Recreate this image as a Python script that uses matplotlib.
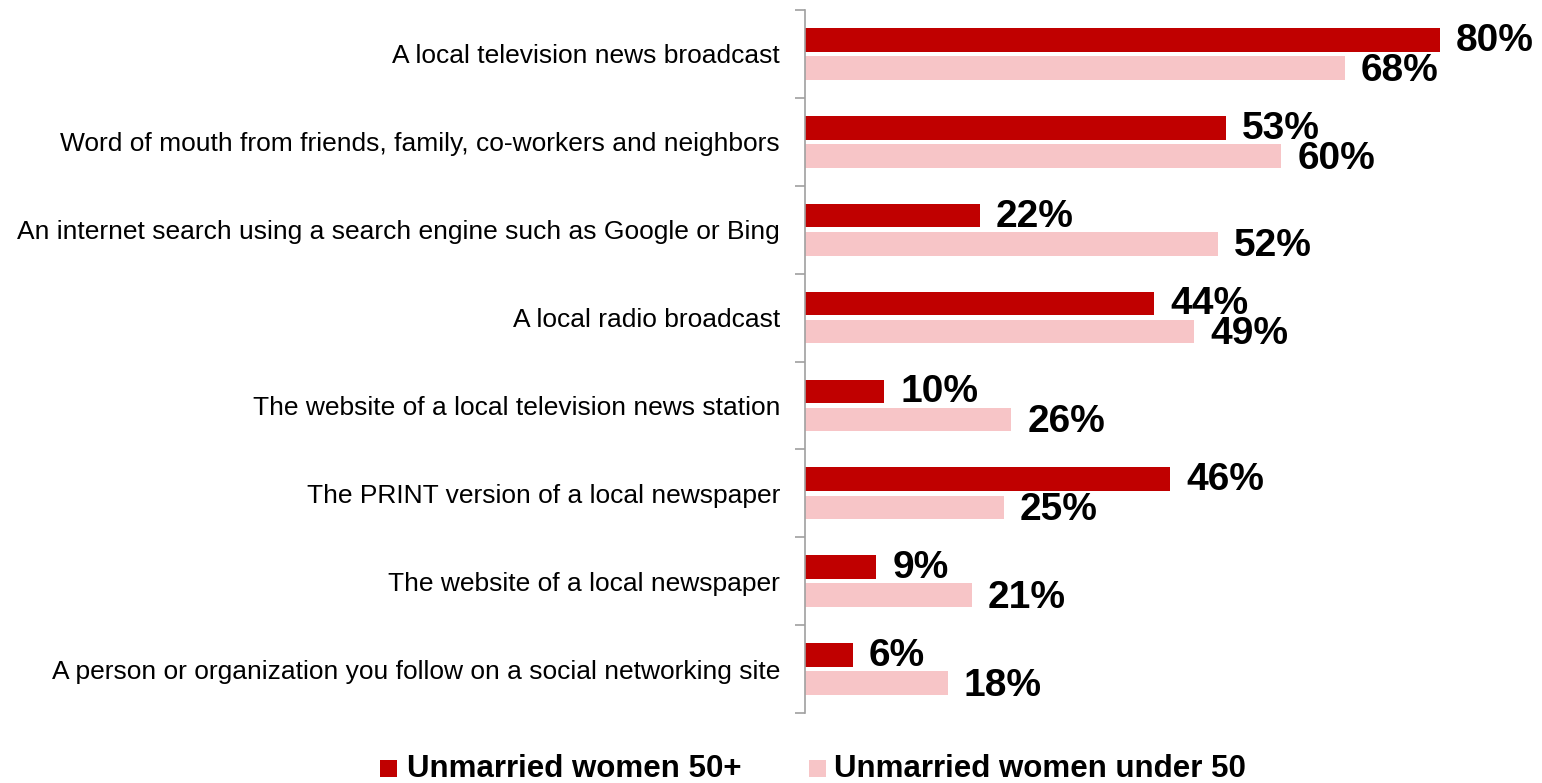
import matplotlib
matplotlib.use("Agg")
import matplotlib.pyplot as plt
from matplotlib.patches import Rectangle
import numpy as np

categories = [
    "A local television news broadcast",
    "Word of mouth from friends, family, co-workers and neighbors",
    "An internet search using a search engine such as Google or Bing",
    "A local radio broadcast",
    "The website of a local television news station",
    "The PRINT version of a local newspaper",
    "The website of a local newspaper",
    "A person or organization you follow on a social networking site",
]
women_50_plus = [80, 53, 22, 44, 10, 46, 9, 6]
women_under_50 = [68, 60, 52, 49, 26, 25, 21, 18]
series_names = ["Unmarried women 50+", "Unmarried women under 50"]
colors = ["#C00000", "#F7C5C7"]

plt.rcParams['font.family'] = ['Liberation Sans', 'DejaVu Sans']

W, H = 1542, 783
fig = plt.figure(figsize=(W / 100, H / 100), dpi=100)
ax_left, ax_right = 805 / W, 1.0
ax_bottom, ax_top = (H - 713) / H, (H - 10) / H
ax = fig.add_axes([ax_left, ax_bottom, ax_right - ax_left, ax_top - ax_bottom])

y = np.arange(len(categories))
off = 0.16
h = 0.27
ax.barh(y - off, women_50_plus, height=h, color=colors[0])
ax.barh(y + off, women_under_50, height=h, color=colors[1])

for yi, v in zip(y, women_50_plus):
    ax.text(v + 2.0, yi - off + 0.01, f"{v}%", va="center", ha="left",
            fontsize=28, fontweight="bold", color="black")
for yi, v in zip(y, women_under_50):
    ax.text(v + 2.0, yi + off + 0.03, f"{v}%", va="center", ha="left",
            fontsize=28, fontweight="bold", color="black")

xmax = (W - 805) / 7.94
ax.set_xlim(0, xmax)
ax.set_ylim(len(categories) - 0.5, -0.5)

ax.set_yticks(y)
ax.set_yticklabels(categories, fontsize=19)
ax.tick_params(axis="y", length=0, pad=18)
ax.set_yticks(np.arange(len(categories) + 1) - 0.5, minor=True)
ax.tick_params(axis="y", which="minor", length=7, width=1.2, color="#A0A0A0")
ax.set_xticks([])
for s in ["top", "right", "bottom"]:
    ax.spines[s].set_visible(False)
ax.spines["left"].set_color("#A0A0A0")
ax.spines["left"].set_linewidth(1.2)

# legend (manual, in figure pixel fractions)
legend_items = [(380, 407), (809, 834)]
for (sx, tx), name, c in zip(legend_items, series_names, colors):
    fig.add_artist(Rectangle((sx / W, 1 - 777 / H), 17 / W, 17 / H,
                             transform=fig.transFigure, facecolor=c, edgecolor="none"))
    fig.text(tx / W, 1 - 769 / H, name, ha="left", va="center",
             fontsize=22.5, fontweight="bold", color="black")

fig.savefig("out.png", dpi=100)
